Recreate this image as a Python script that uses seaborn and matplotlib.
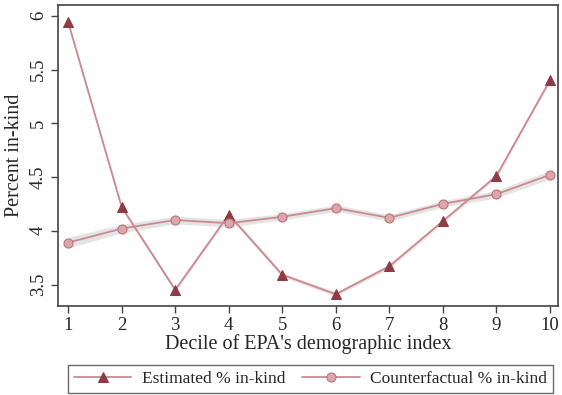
import matplotlib
matplotlib.use("Agg")
import matplotlib.pyplot as plt
import seaborn as sns
import pandas as pd
import numpy as np

deciles = [1, 2, 3, 4, 5, 6, 7, 8, 9, 10]
estimated = [5.94, 4.22, 3.45, 4.15, 3.59, 3.41, 3.67, 4.09, 4.51, 5.40]
counterfactual = [3.89, 4.02, 4.10, 4.07, 4.13, 4.21, 4.12, 4.25, 4.34, 4.52]
cf_halfwidth = [0.05, 0.04, 0.035, 0.035, 0.03, 0.03, 0.03, 0.03, 0.035, 0.04]
est_halfwidth = [0.02] * 10
yticks = [3.5, 4, 4.5, 5, 5.5, 6]
ytick_labels = ["3.5", "4", "4.5", "5", "5.5", "6"]

sns.set_style("white")
plt.rcParams['font.family'] = ['Liberation Serif', 'DejaVu Serif']

df = pd.DataFrame({"decile": deciles, "est": estimated, "cf": counterfactual})

fig = plt.figure(figsize=(5.62, 3.95), dpi=100)
ax = fig.add_axes([58/562, 1 - 306/395, 500/562, 301/395])

line_col = "#c98a90"
mark_col = "#8e3b45"

cf = np.array(counterfactual); cfh = np.array(cf_halfwidth)
es = np.array(estimated); esh = np.array(est_halfwidth)
ax.fill_between(deciles, cf - cfh, cf + cfh, color="#d9d9d9", alpha=0.7, lw=0, zorder=1)
ax.fill_between(deciles, es - esh, es + esh, color="#e6d0d2", alpha=0.6, lw=0, zorder=1)

sns.lineplot(data=df, x="decile", y="est", ax=ax, color=line_col, lw=1.3,
             marker="^", markersize=7, markerfacecolor=mark_col, markeredgecolor=mark_col,
             label="Estimated % in-kind", zorder=3, legend=False)
sns.lineplot(data=df, x="decile", y="cf", ax=ax, color=line_col, lw=1.3,
             marker="o", markersize=6.5, markerfacecolor="#dba7ab", markeredgecolor="#b8757c",
             markeredgewidth=0.8, label="Counterfactual % in-kind", zorder=3, legend=False)

ax.set_xlim(0.81, 10.15)
ax.set_ylim(3.30, 6.10)
ax.set_xticks(deciles)
ax.set_xticklabels([str(d) for d in deciles], fontsize=13.5)
ax.set_yticks(yticks)
ax.set_yticklabels(ytick_labels, fontsize=13.5, rotation=90, va="center")
ax.tick_params(axis="both", length=5, width=1, color="#444444", direction="out", pad=3)
ax.tick_params(axis="x", bottom=True)
ax.tick_params(axis="y", left=True)
for s in ax.spines.values():
    s.set_color("#444444")
    s.set_linewidth(1.2)
ax.set_xlabel("Decile of EPA's demographic index", fontsize=14.5, labelpad=0)
ax.set_ylabel("Percent in-kind", fontsize=14.5, labelpad=4)

handles = ax.get_lines()[:2]
leg = fig.legend(handles, ["Estimated % in-kind", "Counterfactual % in-kind"],
                 loc="lower left", bbox_to_anchor=(68/562, 2/395, 485/562, 28/395),
                 mode="expand", ncol=2, fontsize=12.5,
                 frameon=True, fancybox=False, edgecolor="#444444", handlelength=3.3,
                 borderpad=0.35, handletextpad=0.6, borderaxespad=0)
leg.get_frame().set_linewidth(1.0)

fig.savefig("out.png", dpi=100)
